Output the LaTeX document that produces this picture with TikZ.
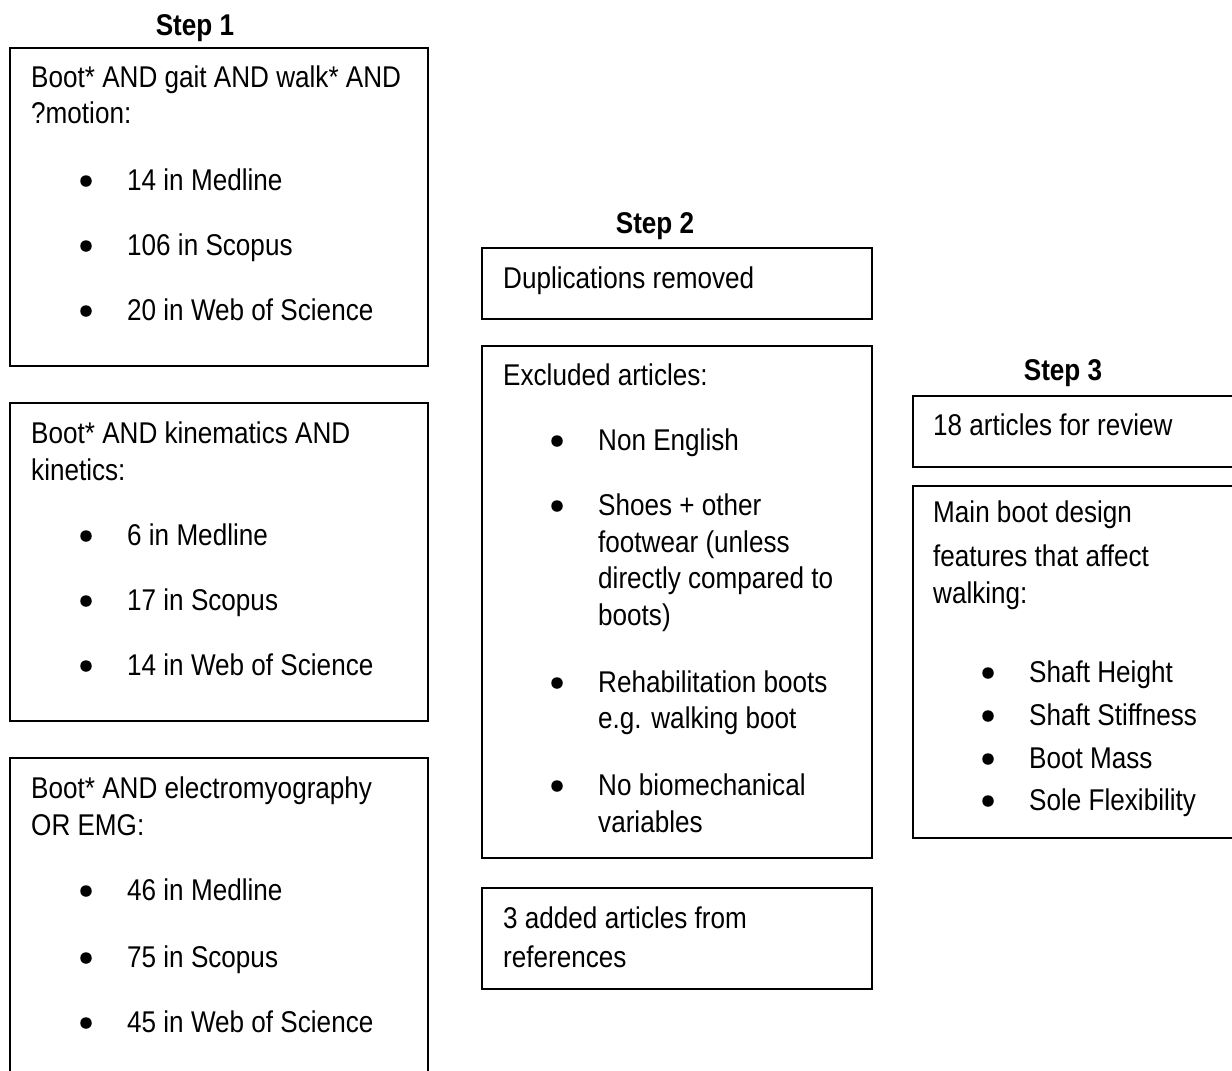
\documentclass[tikz,border=0pt]{standalone}
\usepackage{fontspec}
\setmainfont[FakeStretch=0.87]{Liberation Sans}
\begin{document}
\begin{tikzpicture}[x=1pt,y=-1pt,
  txt/.style={anchor=base west, inner sep=0pt, font=\fontsize{30}{36}\selectfont},
  head/.style={anchor=base, inner sep=0pt, font=\fontsize{30}{36}\selectfont\bfseries},
  box/.style={draw, line width=2.2pt, rectangle, inner sep=0pt},
  dot/.style={circle, fill, inner sep=0pt, minimum size=11.5pt}]
\useasboundingbox (0,0) rectangle (1232,1071);
\clip (0,0) rectangle (1232,1071);
\newcommand\boxat[5]{\node[box, minimum width={#4-#2}, minimum height={#5-#3}] (#1) at ({(#2+#4)/2},{(#3+#5)/2}) {};}
\newcommand\bul[4]{\node[dot] (#1d) at (#2,#3-9) {}; \node[txt] (#1) at (#2+41,#3) {#4};}
% Step 1
\node[head] (s1) at (195,35) {Step 1};
\boxat{b1}{10}{48}{428}{366}
\node[txt] (b1a) at (31,87) {Boot* AND gait AND walk* AND};
\node[txt] (b1b) at (31,123) {?motion:};
\bul{b1c}{86}{190}{14 in Medline}
\bul{b1e}{86}{255}{106 in Scopus}
\bul{b1f}{86}{320}{20 in Web of Science}
\boxat{b2}{10}{403}{428}{721}
\node[txt] (b2a) at (31,443) {Boot* AND kinematics AND};
\node[txt] (b2b) at (31,480) {kinetics:};
\bul{b2c}{86}{545}{6 in Medline}
\bul{b2e}{86}{610}{17 in Scopus}
\bul{b2f}{86}{675}{14 in Web of Science}
\boxat{b3}{10}{758}{428}{1090}
\node[txt] (b3a) at (31,798) {Boot* AND electromyography};
\node[txt] (b3b) at (31,835) {OR EMG:};
\bul{b3c}{86}{900}{46 in Medline}
\bul{b3e}{86}{967}{75 in Scopus}
\bul{b3f}{86}{1032}{45 in Web of Science}
% Step 2
\node[head] (s2) at (655,233) {Step 2};
\boxat{dup}{482}{248}{872}{319}
\node[txt] (dupa) at (503,288) {Duplications removed};
\boxat{ex}{482}{346}{872}{858}
\node[txt] (exa) at (503,385) {Excluded articles:};
\bul{exb}{557}{450}{Non English}
\bul{exc}{557}{515}{Shoes + other}
\node[txt] (exc2) at (598,552) {footwear (unless};
\node[txt] (exc3) at (598,588) {directly compared to};
\node[txt] (exc4) at (598,625) {boots)};
\bul{exd}{557}{692}{Rehabilitation boots}
\node[txt] (exd2) at (598,728) {e.g. walking boot};
\bul{exe}{557}{795}{No biomechanical}
\node[txt] (exe2) at (598,832) {variables};
\boxat{add}{482}{888}{872}{989}
\node[txt] (adda) at (503,928) {3 added articles from};
\node[txt] (addb) at (503,967) {references};
% Step 3
\node[head] (s3) at (1063,380) {Step 3};
\boxat{r18}{913}{396}{1245}{467}
\node[txt] (r18a) at (933,435) {18 articles for review};
\boxat{mn}{913}{486}{1245}{838}
\node[txt] (mna) at (933,522) {Main boot design};
\node[txt] (mnb) at (933,566) {features that affect};
\node[txt] (mnc) at (933,603) {walking:};
\bul{mnd}{988}{682}{Shaft Height}
\bul{mne}{988}{725}{Shaft Stiffness}
\bul{mnf}{988}{768}{Boot Mass}
\bul{mng}{988}{810}{Sole Flexibility}
\end{tikzpicture}
\end{document}
